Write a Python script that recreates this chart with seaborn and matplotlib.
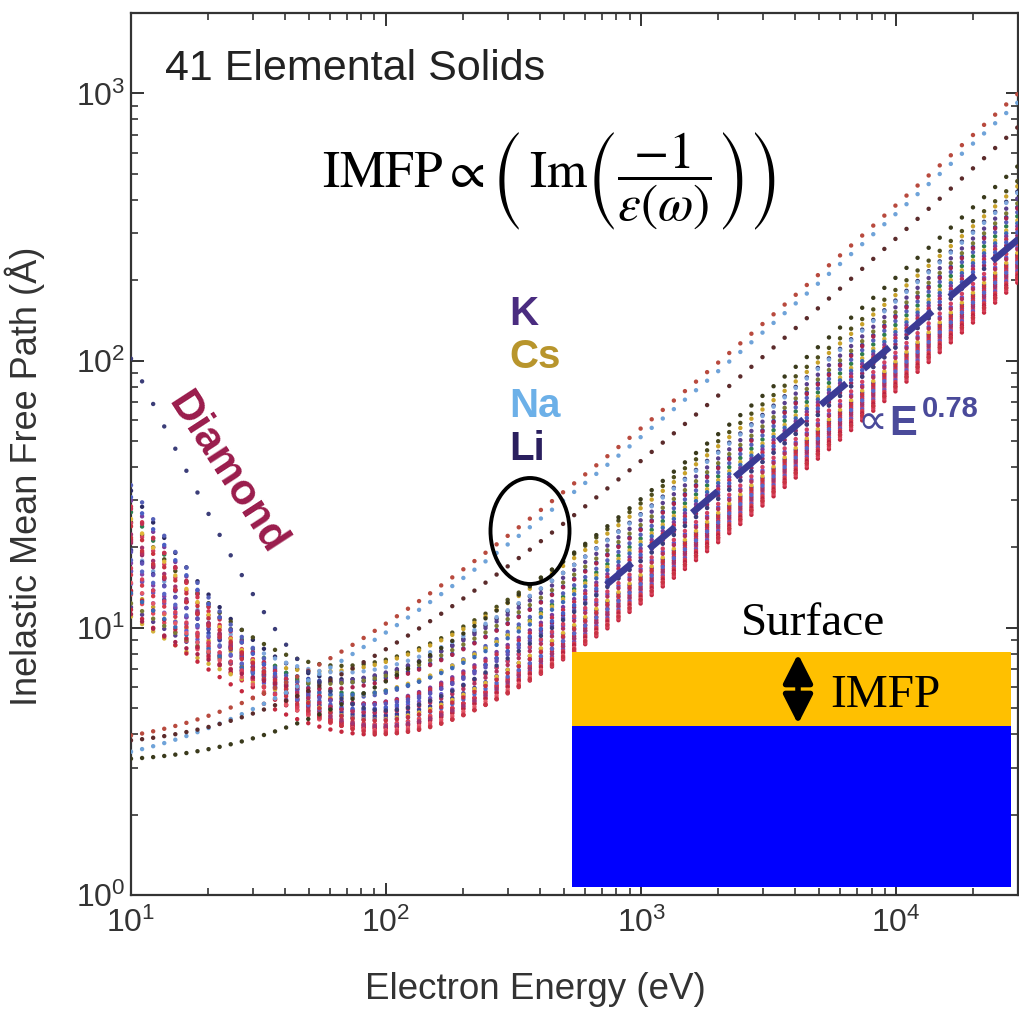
import numpy as np
import pandas as pd
import matplotlib
matplotlib.use("Agg")
import matplotlib.pyplot as plt
import seaborn as sns
from matplotlib.patches import Rectangle, Ellipse, FancyArrowPatch
from matplotlib.ticker import LogLocator, NullFormatter

# ---------------- data ----------------
# energy grid of the calculation: equal steps of 0.1 in ln(E), 10 eV ... 30 keV
grid_index = np.arange(81)
energies = 10.0 * np.exp(0.1 * grid_index)

# per-element curve parameters:
#   low-energy branch  A*(10/E)**p   and   Bethe-like branch  C*E/ln(1+G*E)
band_elements = ["Be", "graphite", "glassy C", "Mg", "Al", "Si", "Sc", "Ti", "V", "Cr",
                 "Fe", "Co", "Ni", "Cu", "Ge", "Y", "Nb", "Mo", "Ru", "Rh",
                 "Pd", "Ag", "In", "Sn", "Gd", "Tb", "Dy", "Hf", "Ta", "W",
                 "Re", "Os", "Ir", "Pt", "Au", "Bi"]
band_A = [14, 30, 22, 11, 9.5, 17, 25, 19, 13, 16,
          20, 12, 15, 27, 10, 32, 23, 18, 14.5, 12.5,
          21, 24, 9, 11.5, 28, 26, 29, 17.5, 19.5, 16.5,
          13.5, 10.5, 15.5, 20.5, 22.5, 9]
band_p = [1.01, 1.53, 1.27, 0.92, 0.87, 1.11, 1.37, 1.18, 0.98, 1.08,
          1.21, 0.95, 1.05, 1.44, 0.88, 1.60, 1.31, 1.14, 1.03, 0.96,
          1.24, 1.34, 0.85, 0.93, 1.47, 1.40, 1.50, 1.13, 1.19, 1.09,
          1.00, 0.90, 1.06, 1.22, 1.29, 0.85]
band_C = [0.092, 0.105, 0.115, 0.110, 0.099, 0.104, 0.085, 0.072, 0.065, 0.059,
          0.056, 0.054, 0.053, 0.058, 0.095, 0.088, 0.067, 0.061, 0.052, 0.051,
          0.055, 0.062, 0.082, 0.080, 0.078, 0.076, 0.074, 0.070, 0.064, 0.057,
          0.050, 0.048, 0.049, 0.050, 0.060, 0.091]
band_G = [0.05] * 36

special_elements = ["K", "Cs", "Na", "Li", "Diamond"]
special_A = [0.9, 0.6, 1.5, 1.6, 100.0]
special_p = [0.5, 0.4, 0.3, 0.25, 2.0]
special_C = [0.28, 0.26, 0.21, 0.15, 0.07]
special_G = [0.15, 0.15, 0.15, 0.15, 0.05]

# power-law guide  ~E^0.78
guide_E = [730, 30000]
guide_L = [14.5, 284]

# ---------------- styles ----------------
band_colors = ["#3346a8", "#2b2b63", "#4d4d1f", "#c9a22a", "#5a3f8c", "#7fa7dc", "#2e7d4f", "#962a62", "#6a5acd", "#8442a6",
               "#c22c46", "#e2475a", "#7256b8", "#d3354d", "#7a7a35", "#5560b8", "#d24262", "#3d3d94", "#d43a4a", "#bb2442",
               "#a3346e", "#e0b83a", "#d4b13a", "#3b6bb5", "#7b3d9c", "#c43050", "#4a5fc4", "#6052b5", "#b3305e", "#5a66c6",
               "#e55a68", "#c4283e", "#d9405a", "#c83444", "#c8323f", "#a8244c"]
special_colors = ["#b84a3e", "#6fa3d9", "#5b2b2b", "#3a3a1c", "#3b3d78"]

names = band_elements + special_elements
A_all = band_A + special_A
p_all = band_p + special_p
C_all = band_C + special_C
G_all = band_G + special_G
palette = dict(zip(names, band_colors + special_colors))

frames = []
for nm, a, p, c, g in zip(names, A_all, p_all, C_all, G_all):
    lam = a * (10.0 / energies) ** p + c * energies / np.log1p(g * energies)
    frames.append(pd.DataFrame({"element": nm, "E": energies, "imfp": lam}))
df = pd.concat(frames, ignore_index=True)

# ---------------- figure ----------------
sns.set_theme(style="ticks")
plt.rcParams["font.family"] = ["Liberation Sans", "DejaVu Sans"]
plt.rcParams["mathtext.fontset"] = "stix"

W, H = 1019, 1009
fig = plt.figure(figsize=(W / 100, H / 100), dpi=100)
fx = lambda px: px / W
fy = lambda py: 1 - py / H
ax = fig.add_axes([fx(131), fy(895), (1018 - 131) / W, (895 - 13) / H])

sns.scatterplot(data=df, x="E", y="imfp", hue="element", hue_order=names,
                palette=palette, s=10, linewidth=0, legend=False, ax=ax, zorder=3)
ax.plot(guide_E, guide_L, color="#3b3b95", lw=4.8, dashes=(5, 3.4),
        solid_capstyle="butt", dash_capstyle="butt", zorder=4)

ax.set_xscale("log")
ax.set_yscale("log")
ax.set_xlim(10, 30000)
ax.set_ylim(1, 2000)
ax.xaxis.set_major_locator(LogLocator(base=10, numticks=10))
ax.yaxis.set_major_locator(LogLocator(base=10, numticks=10))
ax.xaxis.set_minor_locator(LogLocator(base=10, subs=np.arange(2, 10), numticks=20))
ax.yaxis.set_minor_locator(LogLocator(base=10, subs=np.arange(2, 10), numticks=20))
ax.xaxis.set_minor_formatter(NullFormatter())
ax.yaxis.set_minor_formatter(NullFormatter())

for s in ax.spines.values():
    s.set_linewidth(1.6)
    s.set_color("#333333")
    s.set_visible(True)
ax.tick_params(which="both", direction="in", top=True, right=True, color="#333333")
ax.tick_params(which="major", length=9, width=1.4, labelsize=23, labelcolor="#333333")
ax.tick_params(which="minor", length=5, width=1.2)
ax.tick_params(axis="x", which="major", pad=9)
ax.tick_params(axis="y", which="major", pad=4)

ax.set_xlabel("Electron Energy (eV)", fontsize=26.5, color="#333333")
ax.set_ylabel("Inelastic Mean Free Path (Å)", fontsize=26, color="#333333")
ax.xaxis.set_label_coords((535 - 131) / 887, (895 - 972) / 882)
ax.yaxis.set_label_coords((45 - 131) / 887, (895 - 476) / 882)

# ---------------- annotations ----------------
fig.text(fx(165), fy(80), "41 Elemental Solids", fontsize=31, color="#222222",
         ha="left", va="baseline")
fig.text(fx(549), fy(181),
         r"$\mathrm{IMFP}\propto\left(\,\mathrm{Im}\left(\dfrac{-1}{\varepsilon\left(\omega\right)}\right)\right)$",
         fontsize=37, color="black", ha="center", va="center")

for txt, col, base in [("K", "#4a2c80", 325), ("Cs", "#b8952c", 368),
                       ("Na", "#6cb0e8", 417), ("Li", "#2a1f5e", 460)]:
    fig.text(fx(509), fy(base), txt, fontsize=29, fontweight="bold", color=col,
             ha="left", va="baseline")

fig.text(fx(226), fy(473), "Diamond", fontsize=31, fontweight="bold", color="#9a1c4c",
         rotation=-57, rotation_mode="anchor", ha="center", va="center")

gcol = "#4a4a9a"
fig.text(fx(857), fy(434), "∝", fontsize=30, color=gcol, ha="left", va="baseline",
         family=["DejaVu Sans"])
fig.text(fx(889), fy(435), "E", fontsize=30, fontweight="bold", color=gcol,
         ha="left", va="baseline")
fig.text(fx(922), fy(417), "0.78", fontsize=21, fontweight="bold", color=gcol,
         ha="left", va="baseline")

fig.add_artist(Ellipse((fx(530), fy(531)), 79 / W, 106 / H, transform=fig.transFigure,
                       fill=False, ec="black", lw=2.8, zorder=5))

# surface sketch
fig.add_artist(Rectangle((fx(572), fy(726)), (1011 - 572) / W, (726 - 652) / H,
                         transform=fig.transFigure, color="#FFC000", lw=0, zorder=6))
fig.add_artist(Rectangle((fx(572), fy(887)), (1011 - 572) / W, (887 - 726) / H,
                         transform=fig.transFigure, color="#0000FF", lw=0, zorder=6))
fig.add_artist(FancyArrowPatch((fx(798), fy(654)), (fx(798), fy(724)),
                               transform=fig.transFigure,
                               arrowstyle="<|-|>,head_length=0.55,head_width=0.28",
                               mutation_scale=32, lw=4, color="black",
                               shrinkA=0, shrinkB=0, zorder=7))
fig.text(fx(813), fy(635), "Surface", family=["Liberation Serif"], fontsize=34,
         color="black", ha="center", va="baseline", zorder=7)
fig.text(fx(885), fy(707), "IMFP", family=["Liberation Serif"], fontsize=34,
         color="black", ha="center", va="baseline", zorder=7)

fig.savefig("out.png", dpi=100, facecolor="white")
